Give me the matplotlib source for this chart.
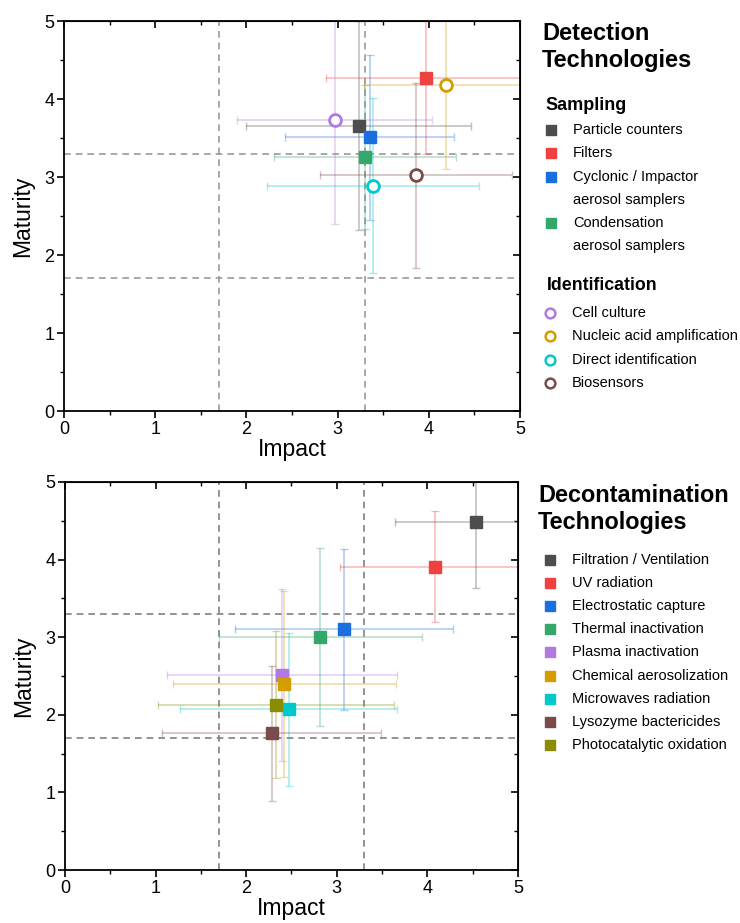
import matplotlib
matplotlib.use("Agg")
import matplotlib.pyplot as plt
from matplotlib.lines import Line2D
from matplotlib.ticker import MultipleLocator

plt.rcParams['font.family'] = ['Liberation Sans', 'DejaVu Sans']

# ---- detection technologies (top panel) ----
det_names = ['Particle counters', 'Filters', 'Cyclonic / Impactor\naerosol samplers',
             'Condensation\naerosol samplers',
             'Cell culture', 'Nucleic acid amplification', 'Direct identification', 'Biosensors']
det_impact = [3.23, 3.97, 3.35, 3.30, 2.97, 4.19, 3.39, 3.86]
det_maturity = [3.66, 4.27, 3.51, 3.26, 3.73, 4.18, 2.89, 3.02]
det_impact_err = [1.23, 1.10, 0.93, 1.00, 1.07, 0.90, 1.16, 1.05]
det_maturity_err = [1.34, 0.98, 1.06, 0.92, 1.33, 1.08, 1.12, 1.19]
det_colors = ['#4d4d4d', '#f04141', '#1a6fe0', '#34a86b',
              '#b07ae0', '#d39c00', '#00c9cc', '#7a4b4b']
det_open = [False, False, False, False, True, True, True, True]

# ---- decontamination technologies (bottom panel) ----
dec_names = ['Filtration / Ventilation', 'UV radiation', 'Electrostatic capture',
             'Thermal inactivation', 'Plasma inactivation', 'Chemical aerosolization',
             'Microwaves radiation', 'Lysozyme bactericides', 'Photocatalytic oxidation']
dec_impact = [4.54, 4.08, 3.08, 2.82, 2.40, 2.42, 2.47, 2.28, 2.33]
dec_maturity = [4.48, 3.91, 3.10, 3.00, 2.51, 2.40, 2.07, 1.76, 2.13]
dec_impact_err = [0.90, 1.05, 1.20, 1.12, 1.27, 1.23, 1.20, 1.21, 1.30]
dec_maturity_err = [0.85, 0.72, 1.04, 1.15, 1.11, 1.20, 0.99, 0.87, 0.95]
dec_colors = ['#4d4d4d', '#f04141', '#1a6fe0', '#34a86b', '#b07ae0',
              '#d39c00', '#00c9cc', '#7a4b4b', '#8c8c00']

thresholds = [1.7, 3.3]

fig = plt.figure(figsize=(7.4, 9.23), dpi=100)
ax1 = fig.add_axes([0.0865, 0.5547, 0.6162, 0.4225])
ax2 = fig.add_axes([0.0878, 0.0574, 0.6122, 0.4204])


def style_axes(ax, dash_color):
    ax.set_xlim(0, 5)
    ax.set_ylim(0, 5)
    for t in thresholds:
        ax.axvline(t, color=dash_color, lw=1.2, dashes=(4, 3), zorder=1)
        ax.axhline(t, color=dash_color, lw=1.2, dashes=(4, 3), zorder=1)
    for s in ax.spines.values():
        s.set_linewidth(1.3)
    ax.xaxis.set_major_locator(MultipleLocator(1))
    ax.yaxis.set_major_locator(MultipleLocator(1))
    ax.xaxis.set_minor_locator(MultipleLocator(0.5))
    ax.yaxis.set_minor_locator(MultipleLocator(0.5))
    ax.tick_params(which='major', direction='out', length=5, width=1.2, labelsize=13, pad=2)
    ax.tick_params(which='minor', direction='out', length=3, width=1.0)
    # inward ticks on top and right
    top = ax.secondary_xaxis('top')
    right = ax.secondary_yaxis('right')
    for sec in (top, right):
        sec.tick_params(which='major', direction='in', length=5, width=1.2,
                        labeltop=False, labelright=False)
        sec.tick_params(which='minor', direction='in', length=3, width=1.0)
    top.xaxis.set_major_locator(MultipleLocator(1))
    top.xaxis.set_minor_locator(MultipleLocator(0.5))
    right.yaxis.set_major_locator(MultipleLocator(1))
    right.yaxis.set_minor_locator(MultipleLocator(0.5))
    top.set_xticklabels([])
    right.set_yticklabels([])
    ax.set_xlabel('Impact', fontsize=16.5, labelpad=0)
    ax.set_ylabel('Maturity', fontsize=16.5, labelpad=7)


style_axes(ax1, '#999999')
style_axes(ax2, '#808080')

for i in range(len(det_names)):
    c = det_colors[i]
    ax1.errorbar(det_impact[i], det_maturity[i], xerr=det_impact_err[i], yerr=det_maturity_err[i],
                 fmt='none', ecolor=c, elinewidth=1.2, capsize=3, capthick=1.0, alpha=0.35, zorder=2)
    if det_open[i]:
        ax1.plot(det_impact[i], det_maturity[i], 'o', ms=8.5, mfc='white', mec=c, mew=2, zorder=3)
    else:
        ax1.plot(det_impact[i], det_maturity[i], 's', ms=8.5, color=c, zorder=3)

for i in range(len(dec_names)):
    c = dec_colors[i]
    ax2.errorbar(dec_impact[i], dec_maturity[i], xerr=dec_impact_err[i], yerr=dec_maturity_err[i],
                 fmt='none', ecolor=c, elinewidth=1.2, capsize=3, capthick=1.0, alpha=0.35, zorder=2)
    ax2.plot(dec_impact[i], dec_maturity[i], 's', ms=8.5, color=c, zorder=3)

W, H = 740, 923
ROW = 23.2


def fx(px):
    return px / W


def fy(py):
    return 1 - py / H


def legend_item(px, py, color, text, open_marker=False):
    if open_marker:
        fig.add_artist(Line2D([fx(px)], [fy(py)], marker='o', ms=7, mfc='white', mec=color, mew=1.8,
                              linestyle='none', transform=fig.transFigure))
    else:
        fig.add_artist(Line2D([fx(px)], [fy(py)], marker='s', ms=7.5, color=color,
                              linestyle='none', transform=fig.transFigure))
    for k, line in enumerate(text.split('\n')):
        fig.text(fx(px + 22), fy(py + k * ROW), line, fontsize=10.5, va='center', ha='left')


# top legend
fig.text(fx(542), fy(47), 'Detection\nTechnologies', fontsize=17, fontweight='bold',
         va='center', ha='left', linespacing=1.2)
fig.text(fx(545), fy(106), 'Sampling', fontsize=13, fontweight='bold', va='center', ha='left')
samp_rows = [130, 153, 177, 223]
for i in range(4):
    legend_item(551, samp_rows[i], det_colors[i], det_names[i])
fig.text(fx(547), fy(285), 'Identification', fontsize=12.8, fontweight='bold', va='center', ha='left')
ident_rows = [313, 336, 360, 383]
for j, i in enumerate(range(4, 8)):
    legend_item(550, ident_rows[j], det_colors[i], det_names[i], open_marker=True)

# bottom legend
fig.text(fx(538), fy(509), 'Decontamination\nTechnologies', fontsize=16.9, fontweight='bold',
         va='center', ha='left', linespacing=1.2)
for i in range(len(dec_names)):
    legend_item(550, 560 + i * 23.1, dec_colors[i], dec_names[i])

fig.savefig('out.png', dpi=100)
